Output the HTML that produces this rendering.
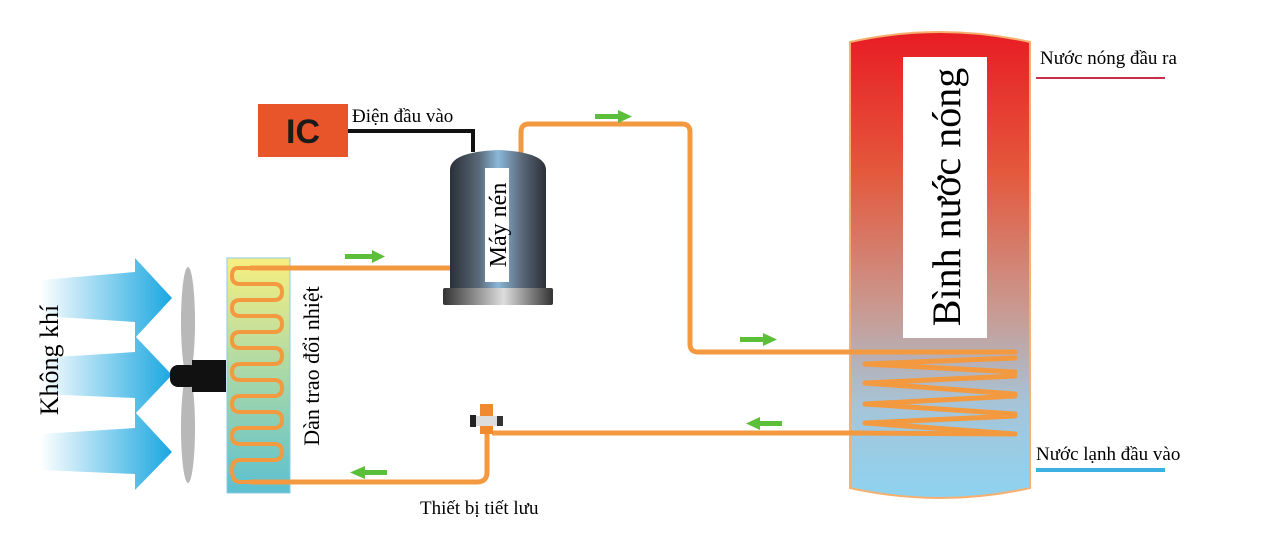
<!DOCTYPE html>
<html><head><meta charset="utf-8"><style>
html,body{margin:0;padding:0;background:#fff;width:1280px;height:550px;overflow:hidden}
text{font-family:"Liberation Serif","Noto Serif CJK SC",serif}
</style></head><body>
<svg width="1280" height="550" viewBox="0 0 1280 550" xmlns="http://www.w3.org/2000/svg">
<defs>
<linearGradient id="tank" x1="0" y1="0" x2="0" y2="1">
<stop offset="0" stop-color="#e81c24"/><stop offset="0.3" stop-color="#e4583c"/>
<stop offset="0.6" stop-color="#c99a92"/><stop offset="0.8" stop-color="#a6c4d8"/>
<stop offset="1" stop-color="#8ed3f0"/></linearGradient>
<linearGradient id="hx" x1="0" y1="0" x2="0" y2="1">
<stop offset="0" stop-color="#f8ef80"/><stop offset="0.5" stop-color="#a8d8a8"/><stop offset="1" stop-color="#5cc0d0"/></linearGradient>
<linearGradient id="comp" x1="0" y1="0" x2="1" y2="0">
<stop offset="0" stop-color="#2a3038"/><stop offset="0.3" stop-color="#5a6878"/><stop offset="0.5" stop-color="#8ab8d8"/><stop offset="0.75" stop-color="#5a6878"/><stop offset="1" stop-color="#2a3038"/></linearGradient>
<linearGradient id="base" x1="0" y1="0" x2="1" y2="0">
<stop offset="0" stop-color="#333"/><stop offset="0.55" stop-color="#ddd"/><stop offset="1" stop-color="#333"/></linearGradient>
<linearGradient id="air" x1="0" y1="0" x2="1" y2="0">
<stop offset="0" stop-color="#1aa7e0" stop-opacity="0"/><stop offset="1" stop-color="#1aa7e0"/></linearGradient>
</defs>

<!-- air arrows -->
<g fill="url(#air)">
<polygon points="40,280 135,272 135,258 172,298 135,338 135,322 40,316"/>
<polygon points="40,358 135,352 135,336 172,375 135,414 135,398 40,394"/>
<polygon points="40,434 135,428 135,412 172,452 135,490 135,474 40,470"/>
</g>
<text transform="translate(58,360) rotate(-90)" font-size="26" text-anchor="middle">Không khí</text>

<!-- fan -->
<ellipse cx="188" cy="322" rx="7" ry="55" fill="#b8b8b8"/>
<ellipse cx="188" cy="428" rx="7" ry="55" fill="#b8b8b8"/>
<rect x="170" y="365" width="28" height="22" rx="8" fill="#111"/>
<rect x="192" y="360" width="34" height="32" fill="#111"/>

<!-- heat exchanger -->
<rect x="227" y="258" width="63" height="235" fill="url(#hx)" stroke="#8cc8e8" stroke-width="1"/>
<path d="M250,268 L238,268 Q232,268 232,276 Q232,284 240,284 L274,284 Q282,284 282,292 Q282,300 274,300 L240,300 Q232,300 232,308 Q232,316 240,316 L274,316 Q282,316 282,324 Q282,332 274,332 L240,332 Q232,332 232,340 Q232,348 240,348 L274,348 Q282,348 282,356 Q282,364 274,364 L240,364 Q232,364 232,372 Q232,380 240,380 L274,380 Q282,380 282,388 Q282,396 274,396 L240,396 Q232,396 232,404 Q232,412 240,412 L274,412 Q282,412 282,420 Q282,428 274,428 L240,428 Q232,428 232,436 Q232,444 240,444 L274,444 Q282,444 282,452 Q282,460 274,460 L240,460 Q232,460 232,470 Q232,482 240,482 L250,482" fill="none" stroke="#f39a40" stroke-width="4"/>
<text transform="translate(319,366) rotate(-90)" font-size="22" text-anchor="middle">Dàn trao đổi nhiệt</text>

<!-- pipes -->
<g fill="none" stroke="#f39a40" stroke-width="5" stroke-linejoin="round">
<path d="M250,268 L450,268"/>
<path d="M521,158 L521,132 Q521,124 529,124 L682,124 Q690,124 690,132 L690,344 Q690,352 698,352 L850,352"/>
<path d="M850,433 L492,433"/>
<path d="M487,430 L487,472 Q487,482 477,482 L250,482"/>
</g>

<!-- green arrows -->
<g fill="#5cbf3a">
<rect x="345" y="254" width="30" height="5"/><polygon points="372,250 385,256.5 372,263"/>
<rect x="595" y="114" width="26" height="5"/><polygon points="618,110 632,116.5 618,123"/>
<rect x="740" y="337" width="26" height="5"/><polygon points="763,333 777,339.5 763,346"/>
<rect x="758" y="421" width="24" height="5"/><polygon points="760,417 746,423.5 760,430"/>
<rect x="363" y="470" width="24" height="5"/><polygon points="365,466 350,472.5 365,479"/>
</g>

<!-- valve -->
<rect x="480" y="404" width="13" height="30" fill="#f08a30"/>
<rect x="474" y="416" width="26" height="10" fill="#ddd"/>
<rect x="470" y="415" width="6" height="12" fill="#222"/>
<rect x="497" y="416" width="6" height="10" fill="#333"/>
<text x="420" y="514" font-size="19">Thiết bị tiết lưu</text>

<!-- IC -->
<rect x="258" y="104" width="90" height="53" fill="#e8552a"/>
<text x="303" y="143" font-size="34" font-weight="bold" text-anchor="middle" style="font-family:'Liberation Sans',sans-serif" fill="#1a1a1a">IC</text>
<path d="M348,131 L473,131 L473,152" fill="none" stroke="#111" stroke-width="4"/>
<text x="352" y="122" font-size="19">Điện đầu vào</text>

<!-- compressor -->
<path d="M450,170 Q450,152 498,150 Q546,152 546,170 L546,292 L450,292 Z" fill="url(#comp)"/>
<rect x="443" y="288" width="110" height="17" rx="2" fill="url(#base)"/>
<rect x="485" y="168" width="24" height="114" fill="#fff"/>
<text transform="translate(506,225) rotate(-90)" font-size="24" text-anchor="middle">Máy nén</text>

<!-- tank -->
<path d="M850,42 Q940,22 1030,42 L1030,488 Q940,508 850,488 Z" fill="url(#tank)" stroke="#f5b070" stroke-width="2"/>
<rect x="903" y="57" width="84" height="281" fill="#fff"/>
<text transform="translate(960,197) rotate(-90)" font-size="40" text-anchor="middle">Bình nước nóng</text>
<g stroke="#f39a40" stroke-width="5" fill="none" stroke-linecap="round">
<path d="M850,352 L1015,352"/>
<path d="M865,364 L1015,358"/>
<path d="M865,364 L1015,372"/>
<path d="M865,383 L1015,376"/>
<path d="M865,383 L1015,394"/>
<path d="M865,404 L1015,396"/>
<path d="M865,404 L1015,414"/>
<path d="M865,423 L1015,416"/>
<path d="M865,423 L1015,434"/>
<path d="M850,433 L1015,434"/>
</g>

<text x="1040" y="64" font-size="19">Nước nóng đầu ra</text>
<path d="M1036,78 L1165,78" stroke="#c8304a" stroke-width="2"/>
<text x="1036" y="460" font-size="19">Nước lạnh đầu vào</text>
<path d="M1036,470 L1165,470" stroke="#3cb0e0" stroke-width="4"/>
</svg>
</body></html>
